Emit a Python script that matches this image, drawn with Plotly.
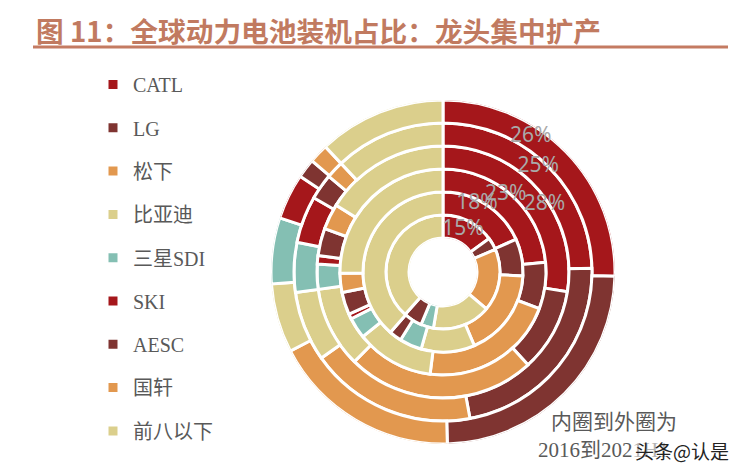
import plotly.graph_objects as go

# ---------------- data (inner ring -> outer ring) ----------------
years = ["2016", "2017", "2018", "2019", "2020", "2021H1"]
companies = ["CATL", "LG", "松下", "比亚迪", "三星SDI", "SKI", "AESC", "国轩", "前八以下"]

catl    = [15.0, 18.3, 23.5, 27.5, 24.6, 25.4]
lg      = [3.5, 7.5, 7.3, 10.7, 22.5, 24.2]
panason = [17.7, 17.8, 21.2, 24.2, 18.1, 17.8]
byd     = [16.5, 10.8, 12.2, 10.4, 7.6, 6.5]
samsung = [3.6, 4.5, 3.3, 3.2, 5.4, 6.2]
ski     = [0.0, 0.0, 0.8, 1.1, 5.1, 4.3]
aesc    = [5.3, 2.5, 3.5, 3.5, 2.8, 1.8]
guoxuan = [0.0, 0.0, 3.0, 3.3, 1.9, 1.8]
others  = [38.4, 38.6, 25.2, 16.1, 12.0, 12.0]

catl_labels = ["15%", "18%", "23%", "28%", "25%", "26%"]

series = [catl, lg, panason, byd, samsung, ski, aesc, guoxuan, others]

# ---------------- styles ----------------
RED = "#A5171B"
BROWN = "#7F3431"
ORANGE = "#E2984F"
BEIGE = "#DBCF8C"
TEAL = "#84BFB3"
colors = [RED, BROWN, ORANGE, BEIGE, TEAL, RED, BROWN, ORANGE, BEIGE]

W, H = 745, 473
CX, CY, R_OUT, R_HOLE = 443, 272, 172, 34

totals = [sum(s[i] for s in series) for i in range(len(years))]

fig = go.Figure()
cum = [0.0] * len(years)
for name, vals, col in zip(companies, series, colors):
    th, wd, rr, bb = [], [], [], []
    for i, v in enumerate(vals):
        start = cum[i] / totals[i] * 360
        span = v / totals[i] * 360
        cum[i] += v
        if v <= 0:
            continue
        th.append(start + span / 2)
        wd.append(span)
        rr.append(1)
        bb.append(i)
    fig.add_trace(go.Barpolar(
        r=rr, base=bb, theta=th, width=wd, name=name, legendgroup=name,
        marker=dict(color=col, line=dict(color="white", width=3)),
        hoverinfo="name",
    ))

# CATL share labels
lab_rpos = [0.54, 0.85, 0.86, 0.82, 0.70, 0.54]     # position inside ring
lab_afrac = [0.47, 0.40, 0.46, 0.57, 0.475, 0.36]    # fraction of CATL arc
lab_r, lab_t = [], []
for i in range(len(years)):
    span = catl[i] / totals[i] * 360
    lab_r.append(i + lab_rpos[i])
    lab_t.append(span * lab_afrac[i])
fig.add_trace(go.Scatterpolar(
    r=lab_r, theta=lab_t, mode="text", text=catl_labels,
    textfont=dict(family="Noto Sans", size=21, color="#A9A9A9"),
    showlegend=False, hoverinfo="skip",
))

fig.update_layout(
    width=W, height=H, autosize=False,
    margin=dict(l=0, r=0, t=0, b=0),
    paper_bgcolor="white", plot_bgcolor="white",
    polar=dict(
        domain=dict(x=[(CX - R_OUT) / W, (CX + R_OUT) / W],
                    y=[1 - (CY + R_OUT) / H, 1 - (CY - R_OUT) / H]),
        hole=R_HOLE / R_OUT,
        barmode="overlay",
        bgcolor="rgba(0,0,0,0)",
        radialaxis=dict(range=[0, 6], visible=False),
        angularaxis=dict(rotation=90, direction="clockwise", visible=False,
                         thetaunit="degrees"),
    ),
    legend=dict(
        x=93 / W, y=1 - 65 / H, xanchor="left", yanchor="top",
        traceorder="grouped", tracegroupgap=14.3,
        font=dict(family="Liberation Serif, Noto Sans CJK SC", size=20, color="#595959"),
        bgcolor="rgba(0,0,0,0)",
    ),
    showlegend=True,
)

# title and rule
fig.add_annotation(
    xref="paper", yref="paper", x=34 / W, y=1 - 30 / H, xanchor="left", yanchor="middle",
    text="<b>图 11：全球动力电池装机占比：龙头集中扩产</b>", showarrow=False,
    font=dict(family="Noto Sans CJK SC", size=27.7, color="#C17A60"),
)
fig.add_shape(type="line", xref="paper", yref="paper",
              x0=33 / W, x1=728 / W, y0=1 - 47 / H, y1=1 - 47 / H,
              line=dict(color="#C47B62", width=3))

# note text
fig.add_annotation(
    xref="paper", yref="paper", x=549 / W, y=1 - 422 / H, xanchor="left", yanchor="middle",
    text="内圈到外圈为", showarrow=False,
    font=dict(family="Liberation Serif, Noto Sans CJK SC", size=21, color="#595959"),
)
fig.add_annotation(
    xref="paper", yref="paper", x=536 / W, y=1 - 450 / H, xanchor="left", yanchor="middle",
    text="2016到2021H1", showarrow=False,
    font=dict(family="Liberation Serif, Noto Sans CJK SC", size=21, color="#595959"),
)
fig.add_annotation(
    xref="paper", yref="paper", x=633 / W, y=1 - 450 / H, xanchor="left", yanchor="middle",
    text="头条@认是", showarrow=False, bgcolor="rgba(255,255,255,0.55)",
    font=dict(family="Noto Sans CJK SC", size=19, color="#222222"),
)

fig.write_html(
    "out.html",
    config={"displayModeBar": False},
    post_script="document.body.style.margin='0px';document.body.style.overflow='hidden';",
)
